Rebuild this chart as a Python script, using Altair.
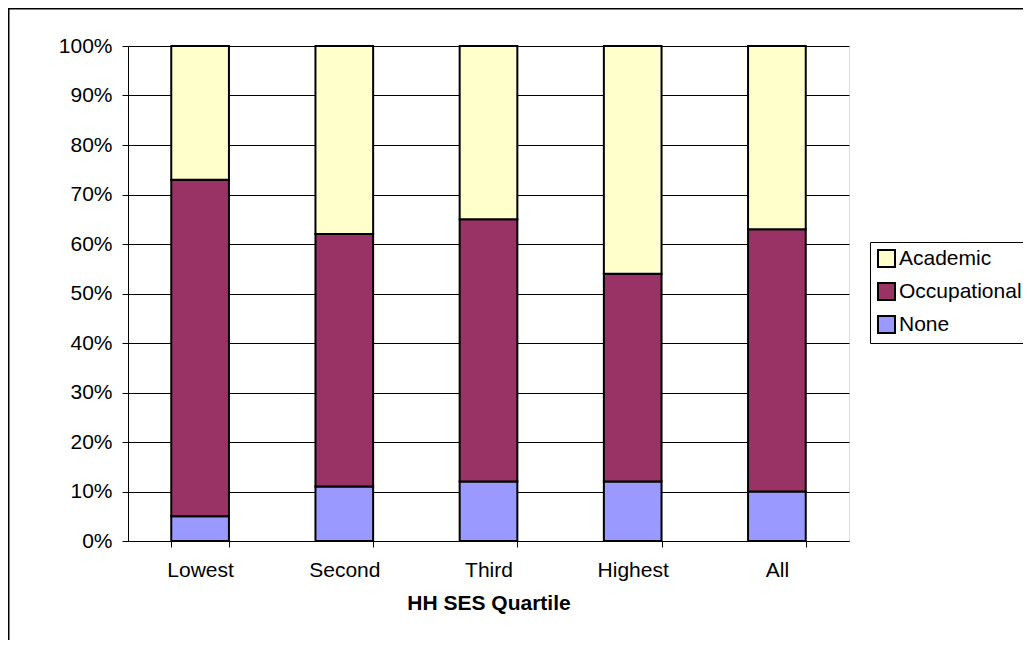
import altair as alt
import pandas as pd

quartiles = ["Lowest", "Second", "Third", "Highest", "All"]
none_pct = [5, 11, 12, 12, 10]
occupational_pct = [68, 51, 53, 42, 53]
academic_pct = [27, 38, 35, 46, 37]
series_legend = ["Academic", "Occupational", "None"]
series_colors = ["#FFFFCC", "#993366", "#9999FF"]
stack_rank = {"None": 0, "Occupational": 1, "Academic": 2}

rows = []
for i, q in enumerate(quartiles):
    for name, vals in (("None", none_pct), ("Occupational", occupational_pct), ("Academic", academic_pct)):
        rows.append({"quartile": q, "series": name, "value": vals[i] / 100.0, "rank": stack_rank[name]})
df = pd.DataFrame(rows)

W, H = 721, 495
FONT = "Liberation Sans"
FS = 21

bars = alt.Chart(df).mark_bar(stroke="black", strokeWidth=2).encode(
    x=alt.X(
        "quartile:N",
        sort=quartiles,
        scale=alt.Scale(paddingInner=0.6, paddingOuter=0.3),
        axis=alt.Axis(
            title="HH SES Quartile",
            labelAngle=0,
            tickBand="extent",
            tickSize=6,
            tickColor="black",
            domainColor="black",
            labelFontSize=FS,
            labelPadding=12,
            labelColor="black",
            titleFontSize=FS,
            titleFontWeight="bold",
            titleColor="black",
            titlePadding=12,
            grid=False,
        ),
    ),
    y=alt.Y(
        "value:Q",
        stack="zero",
        scale=alt.Scale(domain=[0, 1]),
        axis=alt.Axis(
            title=None,
            format="%",
            values=[i / 10 for i in range(11)],
            tickSize=6,
            tickColor="black",
            domainColor="black",
            labelFontSize=FS,
            labelPadding=10,
            labelColor="black",
            grid=True,
            gridColor="black",
            gridWidth=1,
        ),
    ),
    color=alt.Color(
        "series:N",
        scale=alt.Scale(domain=series_legend, range=series_colors),
        legend=alt.Legend(
            title=None,
            orient="none",
            legendX=742,
            legendY=196,
            strokeColor="black",
            fillColor="white",
            padding=6,
            symbolType="square",
            symbolSize=289,
            symbolStrokeColor="black",
            symbolStrokeWidth=2,
            symbolOpacity=1,
            labelFontSize=FS,
            labelColor="black",
            rowPadding=8,
            labelOffset=2,
        ),
    ),
    order=alt.Order("rank:Q", sort="ascending"),
)

frame = alt.Chart(pd.DataFrame({"k": [0]})).mark_rect(
    fill=None, stroke="black", strokeWidth=1.5, clip=False
).encode(
    x=alt.value(-119.25),
    x2=alt.value(W + 300),
    y=alt.value(-37.25),
    y2=alt.value(H + 300),
)

chart = alt.layer(frame, bars).properties(
    width=W,
    height=H,
    padding={"left": 120, "top": 38, "right": 174, "bottom": 99},
    autosize=alt.AutoSizeParams(type="none"),
).configure_view(
    fill="#C0C0C0", stroke="#808080", strokeWidth=2
).configure(
    font=FONT, background="white"
)

chart.save("out.html", embed_options={"renderer": "svg", "actions": False})
